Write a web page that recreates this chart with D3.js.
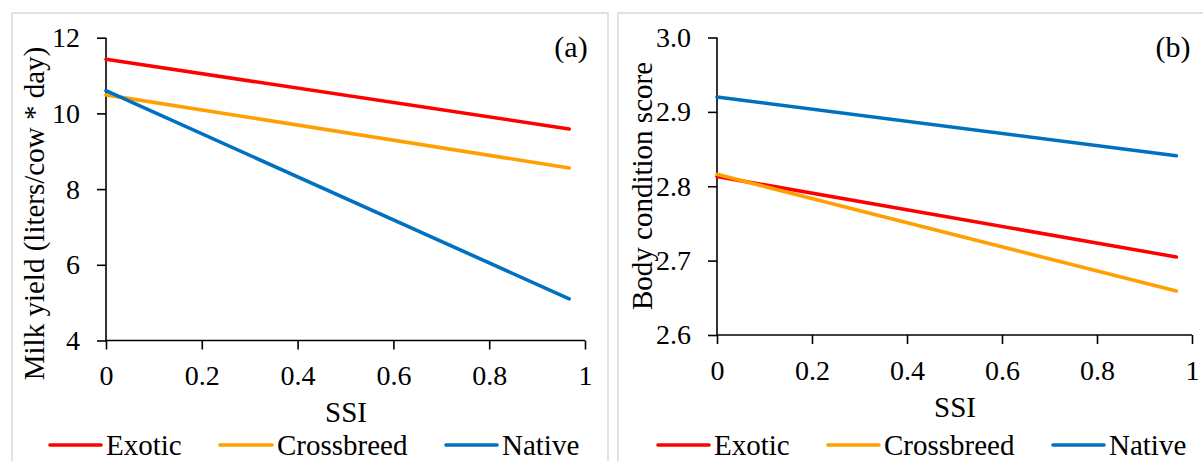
<!DOCTYPE html>
<html><head><meta charset="utf-8">
<script src="https://cdn.jsdelivr.net/npm/d3@7"></script>
<style>body{margin:0;background:#fff}svg{display:block}text{font-family:'Liberation Serif','Times New Roman',serif}</style>
</head><body>
<svg id="c" width="1203" height="461"></svg>
<script>
const seriesNames = ["Exotic", "Crossbreed", "Native"];
const seriesColors = ["#ff0000", "#ffa000", "#0070c0"];
const ssi = [0, 0.967];
const milkExotic = [11.43, 9.59];
const milkCrossbreed = [10.49, 8.56];
const milkNative = [10.60, 5.10];
const bcsExotic = [2.813, 2.705];
const bcsCrossbreed = [2.816, 2.659];
const bcsNative = [2.920, 2.841];
const xTicks = [0, 0.2, 0.4, 0.6, 0.8, 1];
const milkTicks = [4, 6, 8, 10, 12];
const bcsTicks = [2.6, 2.7, 2.8, 2.9, 3.0];

const FONT = "'Liberation Serif','Times New Roman',serif";
const svg = d3.select("#c");

// panel borders
svg.append("rect").attr("x", 12).attr("y", 13).attr("width", 596).attr("height", 470)
  .attr("fill", "none").attr("stroke", "#d9d9d9").attr("stroke-width", 1.5);
svg.append("rect").attr("x", 618).attr("y", 13).attr("width", 600).attr("height", 470)
  .attr("fill", "none").attr("stroke", "#d9d9d9").attr("stroke-width", 1.5);

function panel(cfg) {
  const g = svg.append("g");
  const x = d3.scaleLinear().domain([0, 1]).range([cfg.x0, cfg.x1]);
  const y = d3.scaleLinear().domain(cfg.ydom).range([cfg.y0, cfg.y1]);

  const ya = g.append("g").attr("transform", `translate(${cfg.x0},0)`)
    .call(d3.axisLeft(y).tickValues(cfg.yticks).tickSize(9).tickPadding(17).tickFormat(cfg.yfmt));
  const xa = g.append("g").attr("transform", `translate(0,${cfg.y0})`)
    .call(d3.axisBottom(x).tickValues(xTicks).tickSize(9).tickPadding(16).tickFormat(d => d3.format("")(d)));
  [ya, xa].forEach(a => {
    a.attr("font-family", FONT).attr("font-size", 28);
    a.select(".domain").attr("stroke", "#000").attr("stroke-width", 1.6);
    a.selectAll(".tick line").attr("stroke", "#000").attr("stroke-width", 1.6);
    a.selectAll(".tick text").attr("font-family", FONT).attr("font-size", 28).attr("fill", "#000");
  });
  ya.select(".domain").attr("d", `M0,${cfg.y0}V${cfg.y1}`);
  xa.select(".domain").attr("d", `M${cfg.x0},0H${cfg.x1}`);

  const line = d3.line().x(d => x(d[0])).y(d => y(d[1]));
  cfg.series.forEach((vals, i) => {
    g.append("path").datum(ssi.map((s, j) => [s, vals[j]]))
      .attr("d", line).attr("fill", "none").attr("stroke", seriesColors[i])
      .attr("stroke-width", 3.6).attr("stroke-linecap", "round");
  });

  g.append("text").attr("x", cfg.labelX).attr("y", 56.5).attr("text-anchor", "middle")
    .attr("font-family", FONT).attr("font-size", 30).text(cfg.label);

  g.append("text").attr("transform", `translate(${cfg.ytX},${cfg.ytY}) rotate(-90)`)
    .attr("text-anchor", "middle").attr("font-family", FONT).attr("font-size", 29).text(cfg.ytitle);

  g.append("text").attr("x", cfg.xtX).attr("y", cfg.xtY).attr("text-anchor", "middle")
    .attr("font-family", FONT).attr("font-size", 29).text("SSI");

  seriesNames.forEach((n, i) => {
    const [l0, l1] = cfg.legend[i];
    g.append("line").attr("x1", l0).attr("x2", l1).attr("y1", 445).attr("y2", 445)
      .attr("stroke", seriesColors[i]).attr("stroke-width", 3.6).attr("stroke-linecap", "round");
    g.append("text").attr("x", l1 + 5).attr("y", 455).attr("font-family", FONT)
      .attr("font-size", 29).text(n);
  });
}

panel({
  x0: 106, x1: 585, y0: 340.5, y1: 37.7, ydom: [4, 12], yticks: milkTicks,
  yfmt: d => String(d), series: [milkExotic, milkCrossbreed, milkNative],
  label: "(a)", labelX: 571, ytitle: "Milk yield (liters/cow * day)", ytX: 44, ytY: 213.5,
  xtX: 346, xtY: 421.5,
  legend: [[50, 101], [220, 272], [446, 497]]
});
panel({
  x0: 717, x1: 1192, y0: 335, y1: 37.5, ydom: [2.6, 3.0], yticks: bcsTicks,
  yfmt: d => d.toFixed(1), series: [bcsExotic, bcsCrossbreed, bcsNative],
  label: "(b)", labelX: 1173, ytitle: "Body condition score", ytX: 652, ytY: 186,
  xtX: 955, xtY: 417,
  legend: [[658, 709], [828, 879], [1053, 1104]]
});
</script>
</body></html>
